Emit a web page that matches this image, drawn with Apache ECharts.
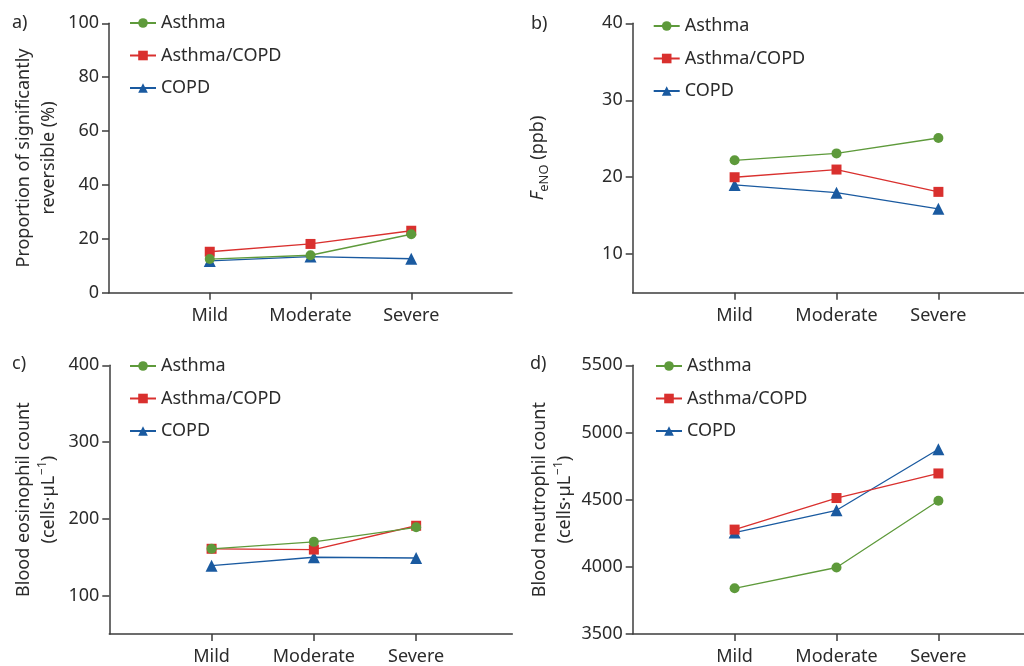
<!DOCTYPE html>
<html>
<head>
<meta charset="utf-8">
<script src="https://cdn.jsdelivr.net/npm/echarts@6/dist/echarts.min.js"></script>
<style>html,body{margin:0;padding:0;background:#fff;}#c{width:1024px;height:666px;}</style>
</head>
<body>
<div id="c"></div>
<script>
// ---- data ----
const categories = ['Mild', 'Moderate', 'Severe'];
const seriesNames = ['Asthma', 'Asthma/COPD', 'COPD'];

// a) Proportion of significantly reversible (%)
const reversibleAsthma = [12.5, 13.9, 21.7];
const reversibleAsthmaCOPD = [15.2, 18.1, 23.0];
const reversibleCOPD = [11.8, 13.4, 12.6];
const reversibleTicks = [0, 20, 40, 60, 80, 100];

// b) FeNO (ppb)
const fenoAsthma = [22.2, 23.1, 25.1];
const fenoAsthmaCOPD = [20.0, 21.0, 18.1];
const fenoCOPD = [19.0, 18.0, 15.9];
const fenoTicks = [10, 20, 30, 40];

// c) Blood eosinophil count
const eosAsthma = [161, 170, 189];
const eosAsthmaCOPD = [161, 160, 191];
const eosCOPD = [139, 150, 149];
const eosTicks = [100, 200, 300, 400];

// d) Blood neutrophil count
const neuAsthma = [3840, 3995, 4492];
const neuAsthmaCOPD = [4277, 4512, 4695];
const neuCOPD = [4255, 4421, 4875];
const neuTicks = [3500, 4000, 4500, 5000, 5500];

// ---- styles ----
const FONT = 'Noto Sans';
const TXT = '#2b2b2b';
const AX = '#3c3c3c';
const colors = ['#5e9a3b', '#d9302e', '#1a5aa0'];
const symbols = ['circle', 'rect', 'triangle'];
const symbolSizes = [10, 10, 12];

const panels = [
  {grid: {left: 109, top: 23.3, width: 403, height: 269.4}, xmax: 4.0, ymin: 0, ymax: 100, ticks: reversibleTicks,
   data: [reversibleAsthma, reversibleAsthmaCOPD, reversibleCOPD],
   name: 'Proportion of significantly\nreversible (%)', nameGap: 48, label: 'a)', lx: 12, ly: 14,
   legend: {left: 124, top: 12}},
  {grid: {left: 632.7, top: 23.3, width: 391.3, height: 269.4}, xmax: 3.84, ymin: 5, ymax: 40, ticks: fenoTicks,
   data: [fenoAsthma, fenoAsthmaCOPD, fenoCOPD],
   name: '{i|F}{s|eNO}{n| (ppb)}', nameGap: 82, label: 'b)', lx: 531, ly: 15,
   legend: {left: 647.7, top: 15}},
  {grid: {left: 109.3, top: 365.3, width: 403, height: 269.4}, xmax: 3.94, ymin: 50, ymax: 400, ticks: eosTicks,
   data: [eosAsthma, eosAsthmaCOPD, eosCOPD],
   name: '{n|Blood eosinophil count}\n{n|(cells·µL}{p|−1}{n|)}', nameGap: 48, label: 'c)', lx: 12, ly: 355,
   legend: {left: 124, top: 355}},
  {grid: {left: 632.7, top: 365.3, width: 391.3, height: 269.4}, xmax: 3.84, ymin: 3500, ymax: 5500, ticks: neuTicks,
   data: [neuAsthma, neuAsthmaCOPD, neuCOPD],
   name: '{n|Blood neutrophil count}\n{n|(cells·µL}{p|−1}{n|)}', nameGap: 54, label: 'd)', lx: 530, ly: 355,
   legend: {left: 650, top: 355}}
];

const option = {
  backgroundColor: '#fff',
  animation: false,
  textStyle: {fontFamily: FONT, color: TXT},
  grid: [], xAxis: [], yAxis: [], series: [], legend: [], graphic: []
};

panels.forEach((p, gi) => {
  option.grid.push(p.grid);
  option.xAxis.push({
    type: 'value', gridIndex: gi, min: 0, max: p.xmax,
    axisLine: {show: true, lineStyle: {color: AX, width: 1.5}},
    axisTick: {show: true, length: 7, lineStyle: {color: AX, width: 1.5}, customValues: [1, 2, 3]},
    axisLabel: {show: true, margin: 14, fontSize: 18, color: TXT, fontFamily: FONT,
      customValues: [1, 2, 3], formatter: v => categories[Math.round(v) - 1] || ''},
    splitLine: {show: false}
  });
  option.yAxis.push({
    type: 'value', gridIndex: gi, min: p.ymin, max: p.ymax,
    axisLine: {show: true, lineStyle: {color: AX, width: 1.5}},
    axisTick: {show: true, length: 7, lineStyle: {color: AX, width: 1.5}, customValues: p.ticks},
    axisLabel: {show: true, margin: 10, fontSize: 18, color: TXT, fontFamily: FONT, customValues: p.ticks,
      formatter: v => String(v)},
    splitLine: {show: false},
    name: p.name, nameLocation: 'middle', nameGap: p.nameGap, nameRotate: 90,
    nameTextStyle: {fontSize: 18, color: TXT, fontFamily: FONT, lineHeight: 25, align: 'center',
      rich: {
        n: {fontSize: 18, color: TXT, fontFamily: FONT, lineHeight: 25},
        i: {fontSize: 18, color: TXT, fontFamily: FONT, fontStyle: 'italic', lineHeight: 25},
        s: {fontSize: 13, color: TXT, fontFamily: FONT, lineHeight: 25, verticalAlign: 'bottom', padding: [8, 0, 0, 0]},
        p: {fontSize: 12, color: TXT, fontFamily: FONT, lineHeight: 25, verticalAlign: 'top', padding: [0, 0, 8, 1]}
      }}
  });
  seriesNames.forEach((nm, si) => {
    option.series.push({
      type: 'line', name: nm, xAxisIndex: gi, yAxisIndex: gi,
      data: p.data[si].map((v, ci) => [ci + 1, v]),
      symbol: symbols[si], symbolSize: symbolSizes[si],
      lineStyle: {color: colors[si], width: 1.3},
      itemStyle: {color: colors[si]},
      z: 10 - si
    });
  });
  option.legend.push({
    orient: 'vertical', left: p.legend.left, top: p.legend.top - 4,
    itemWidth: 26, itemHeight: 12, itemGap: 12.5,
    textStyle: {fontSize: 18, color: TXT, fontFamily: FONT, lineHeight: 20},
    data: seriesNames, selectedMode: false
  });
  option.graphic.push({
    type: 'text', left: p.lx, top: p.ly,
    style: {text: p.label, fontSize: 18, fill: TXT, fontFamily: FONT}
  });
});

const chart = echarts.init(document.getElementById('c'), null, {renderer: 'canvas'});
chart.setOption(option);
</script>
</body>
</html>
